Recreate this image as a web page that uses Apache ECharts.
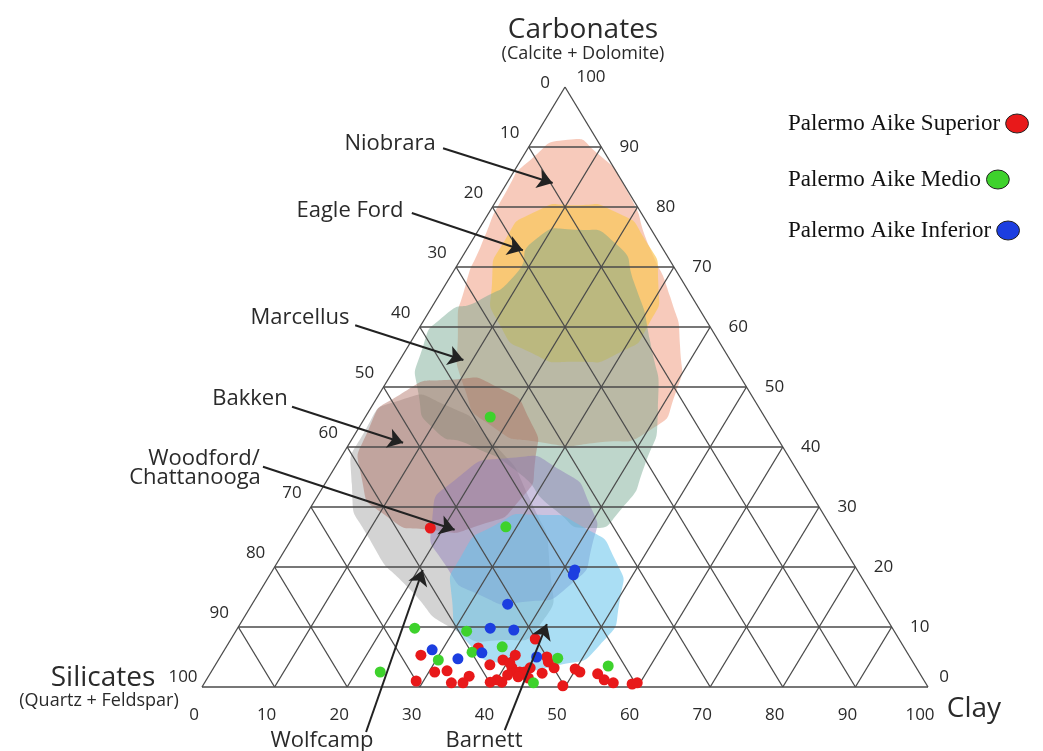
<!DOCTYPE html>
<html><head><meta charset="utf-8">
<script src="https://cdn.jsdelivr.net/npm/echarts@6/dist/echarts.min.js"></script>
<style>html,body{margin:0;padding:0;background:#fff}#c{width:1043px;height:751px}</style>
</head><body><div id="c"></div>
<script>
// ---- tick labels (percent) ----
const tickValues = [0, 10, 20, 30, 40, 50, 60, 70, 80, 90, 100];

// ---- samples: [clay %, carbonates %]  (silicates = 100 - clay - carbonates) ----
const superiorData = [[18.2,26.5],[27.5,5.3],[34.8,6.5],[37.8,3.7],[39.2,4.5],[41.1,3.2],[40.5,5.3],[41.9,8.0],
  [45.0,5.0],[45.6,4.2],[46.9,3.2],[45.7,2.3],[41.4,2.8],[42.5,2.5],[43.2,2.5],[44.2,1.5],[42.7,1.7],[41.1,2.0],
  [40.9,0.8],[40.0,1.2],[39.3,0.8],[30.8,2.5],[32.4,2.7],[35.9,1.8],[35.6,0.7],[34.0,0.7],[29.0,1.0],[49.6,0.2],
  [49.9,3.0],[50.8,2.5],[53.4,2.2],[54.8,1.2],[56.3,0.7],[59.0,0.5],[59.6,0.7],[40.4,4.0],[43.6,3.2]];
const medioData = [[17.2,45.0],[28.5,26.7],[24.4,9.8],[31.8,9.3],[38.0,6.7],[30.3,4.5],[34.3,5.8],[23.3,2.5],
  [46.6,4.8],[54.2,3.5],[45.3,0.7]];
const inferiorData = [[41.6,19.5],[41.8,18.7],[35.2,13.8],[34.8,9.8],[38.2,9.5],[28.6,6.2],[32.9,4.7],[35.7,5.7],[43.6,5.0]];

// ---- shale play fields, outlines as [clay %, carbonates %] ----
const wolfcampField = [[3.4,47.8],[10.0,47.0],[19.1,41.2],[29.6,31.2],[38.2,19.5],[41.4,10.3],[37.1,7.8],[30.1,9.5],[20.6,16.2],[10.9,24.5],[3.8,33.7],[1.1,42.8]];
const niobraraField = [[4.8,91.2],[9.9,89.0],[17.1,82.8],[25.0,73.3],[32.0,65.0],[37.5,56.7],[40.8,48.7],[40.3,42.8],[34.4,40.8],[26.2,40.8],[17.8,43.7],[11.5,49.5],[5.5,59.5],[2.9,66.7],[1.7,73.3],[0.6,82.8],[1.3,87.8]];
const eagleFordField = [[11.2,80.3],[17.3,79.2],[23.8,74.5],[29.2,67.3],[31.3,60.3],[29.7,55.8],[24.3,54.2],[17.3,55.8],[10.9,60.3],[6.3,67.3],[4.5,74.5],[6.3,79.2]];
const marcellusField = [[13.3,76.2],[19.9,74.0],[25.9,67.3],[32.8,57.8],[39.7,46.2],[42.5,37.0],[42.9,29.5],[40.2,26.5],[33.9,29.5],[25.0,36.2],[16.8,40.3],[10.7,42.8],[5.5,48.7],[2.2,56.2],[2.5,62.0],[6.0,64.5],[8.8,68.7],[8.6,74.5]];
const bakkenField = [[8.6,51.2],[16.1,49.8],[22.9,44.5],[27.0,37.8],[28.2,31.2],[24.8,27.0],[18.3,26.2],[10.8,28.7],[4.8,34.5],[1.5,42.8],[2.9,48.7]];
const woodfordField = [[23.6,38.2],[31.2,36.2],[38.3,30.3],[41.9,23.7],[42.2,17.0],[37.4,14.2],[30.7,15.3],[23.4,20.3],[17.8,27.8],[17.6,34.5]];
const barnettField = [[31.6,28.7],[39.5,26.5],[46.3,21.2],[50.3,14.5],[51.3,7.0],[47.5,3.7],[40.6,3.7],[33.4,7.0],[27.2,14.5],[24.8,22.0],[26.9,27.0]];

// annotation arrows in plot coordinates [x, y] (x = clay + carbonates/2, y = carbonates)
const arrowLines = [
  [[33.2,89.8],[48.3,84.0]],
  [[28.9,79.0],[44.2,72.8]],
  [[21.1,60.3],[36.0,54.5]],
  [[12.4,46.7],[27.7,40.7]],
  [[8.4,36.7],[34.8,26.2]],
  [[22.6,-7.5],[30.4,19.5]],
  [[41.7,-7.2],[47.5,10.5]]
];

const seriesNames = ['Palermo Aike Superior', 'Palermo Aike Medio', 'Palermo Aike Inferior'];

function toXY(p) { return [p[0] + p[1] / 2, p[1]]; }

const fields = [
  {pts: wolfcampField, color: 'rgba(150,150,150,0.42)'},
  {pts: niobraraField, color: 'rgba(240,150,120,0.50)'},
  {pts: eagleFordField, color: 'rgba(250,200,90,0.72)'},
  {pts: marcellusField, color: 'rgba(110,165,140,0.45)'},
  {pts: bakkenField, color: 'rgba(170,100,85,0.42)'},
  {pts: woodfordField, color: 'rgba(140,120,185,0.45)'},
  {pts: barnettField, color: 'rgba(100,195,235,0.55)'}
];

// grid segments
const gridSegs = [];
for (const v of tickValues) {
  if (v === 0 || v === 100) continue;
  gridSegs.push([...toXY([0, v]), ...toXY([100 - v, v])]);      // carbonates constant
  gridSegs.push([...toXY([v, 0]), ...toXY([v, 100 - v])]);      // clay constant
  gridSegs.push([...toXY([v, 0]), ...toXY([0, v])]);            // silicates constant
}
gridSegs.push([...toXY([0,0]), ...toXY([100,0])]);
gridSegs.push([...toXY([0,0]), ...toXY([0,100])]);
gridSegs.push([...toXY([100,0]), ...toXY([0,100])]);

const SANS = '"Open Sans", "DejaVu Sans", sans-serif';
const TXT = '#2a2a2a';

// tick labels: [axis, value]
const tickItems = [];
tickValues.forEach(v => { tickItems.push([0, v]); tickItems.push([1, v]); tickItems.push([2, v]); });

const chart = echarts.init(document.getElementById('c'), null, {renderer: 'canvas'});

function dotSeries(name, data, color) {
  return {
    name, type: 'scatter', data: data.map(toXY), symbol: 'circle', symbolSize: 11,
    itemStyle: {color: color, opacity: 1}, z: 6, clip: false
  };
}

const legendTops = [107, 163, 214];
const legends = seriesNames.map((n, i) => ({
  orient: 'vertical', left: 783, top: legendTops[i], align: 'right',
  itemWidth: 24, itemHeight: 19,
  icon: 'path://M0,10a12,10 0 1,0 24,0a12,10 0 1,0 -24,0z',
  itemStyle: {borderColor: '#222', borderWidth: 1},
  textStyle: {fontFamily: '"Liberation Serif", "DejaVu Serif", serif', fontSize: 23, color: '#111'},
  data: [n]
}));

function label(text, x, y, size) {
  return {type: 'text', x, y, style: {text, fontFamily: SANS, fontSize: size, fill: TXT, align: 'center', verticalAlign: 'middle'}};
}

const option = {
  animation: false,
  backgroundColor: '#fff',
  grid: {left: 202, right: 115, top: 87, bottom: 64},
  xAxis: {type: 'value', min: 0, max: 100, show: false},
  yAxis: {type: 'value', min: 0, max: 100, show: false},
  legend: legends,
  graphic: [
    label('Carbonates', 583, 30, 28),
    label('(Calcite + Dolomite)', 583, 54, 18),
    label('Silicates', 103, 678, 28),
    label('(Quartz + Feldspar)', 99, 701, 18),
    label('Clay', 974, 709, 28),
    label('Niobrara', 390, 144, 22),
    label('Eagle Ford', 350, 211, 22),
    label('Marcellus', 300, 318, 22),
    label('Bakken', 250, 399, 22),
    label('Woodford/', 204, 459, 22),
    label('Chattanooga', 195, 478, 22),
    label('Wolfcamp', 322, 741, 22),
    label('Barnett', 484, 741, 22)
  ],
  series: [
    {
      type: 'custom', name: 'fields', silent: true, z: 1,
      data: fields.map((f, i) => [i]),
      renderItem: function (params, api) {
        const f = fields[api.value(0)];
        const pts = f.pts.map(p => api.coord(toXY(p)));
        return {type: 'polygon', shape: {points: pts, smooth: 0.7}, style: {fill: f.color, stroke: null}};
      }
    },
    {
      type: 'custom', name: 'grid', silent: true, z: 3,
      data: gridSegs,
      renderItem: function (params, api) {
        const a = api.coord([api.value(0), api.value(1)]);
        const b = api.coord([api.value(2), api.value(3)]);
        return {type: 'line', shape: {x1: a[0], y1: a[1], x2: b[0], y2: b[1]}, style: {stroke: '#4a4a4a', lineWidth: 1.3}};
      }
    },
    {
      type: 'custom', name: 'ticks', silent: true, z: 4,
      data: tickItems,
      renderItem: function (params, api) {
        const axis = api.value(0), v = api.value(1);
        let anchor, dx, dy;
        if (axis === 0) {           // silicates along left edge
          anchor = api.coord(toXY([0, 100 - v]));
          dx = -19; dy = -14;
          if (v === 0) { dx = -20; dy = -4; }
          if (v === 100) { dx = -19; dy = -10; }
        } else if (axis === 1) {    // carbonates along right edge
          anchor = api.coord(toXY([100 - v, v]));
          dx = 28; dy = 0;
          if (v === 100) { dx = 26; dy = -10; }
          if (v === 0) { dx = 16; dy = -10; }
        } else {                    // clay along bottom
          anchor = api.coord(toXY([v, 0]));
          dx = -8; dy = 28;
        }
        return {type: 'text', x: anchor[0] + dx, y: anchor[1] + dy,
          style: {text: String(v), fontFamily: SANS, fontSize: 17, fill: TXT, align: 'center', verticalAlign: 'middle'}};
      }
    },
    {
      type: 'lines', coordinateSystem: 'cartesian2d', silent: true, z: 7, clip: false,
      symbol: ['none', 'arrow'], symbolSize: 15,
      lineStyle: {color: '#222', width: 2, opacity: 1, curveness: 0},
      data: arrowLines.map(a => ({coords: a}))
    },
    dotSeries(seriesNames[0], superiorData, '#e8191a'),
    dotSeries(seriesNames[1], medioData, '#3ed22c'),
    dotSeries(seriesNames[2], inferiorData, '#1c3ee0')
  ]
};
chart.setOption(option);
</script>
</body></html>
